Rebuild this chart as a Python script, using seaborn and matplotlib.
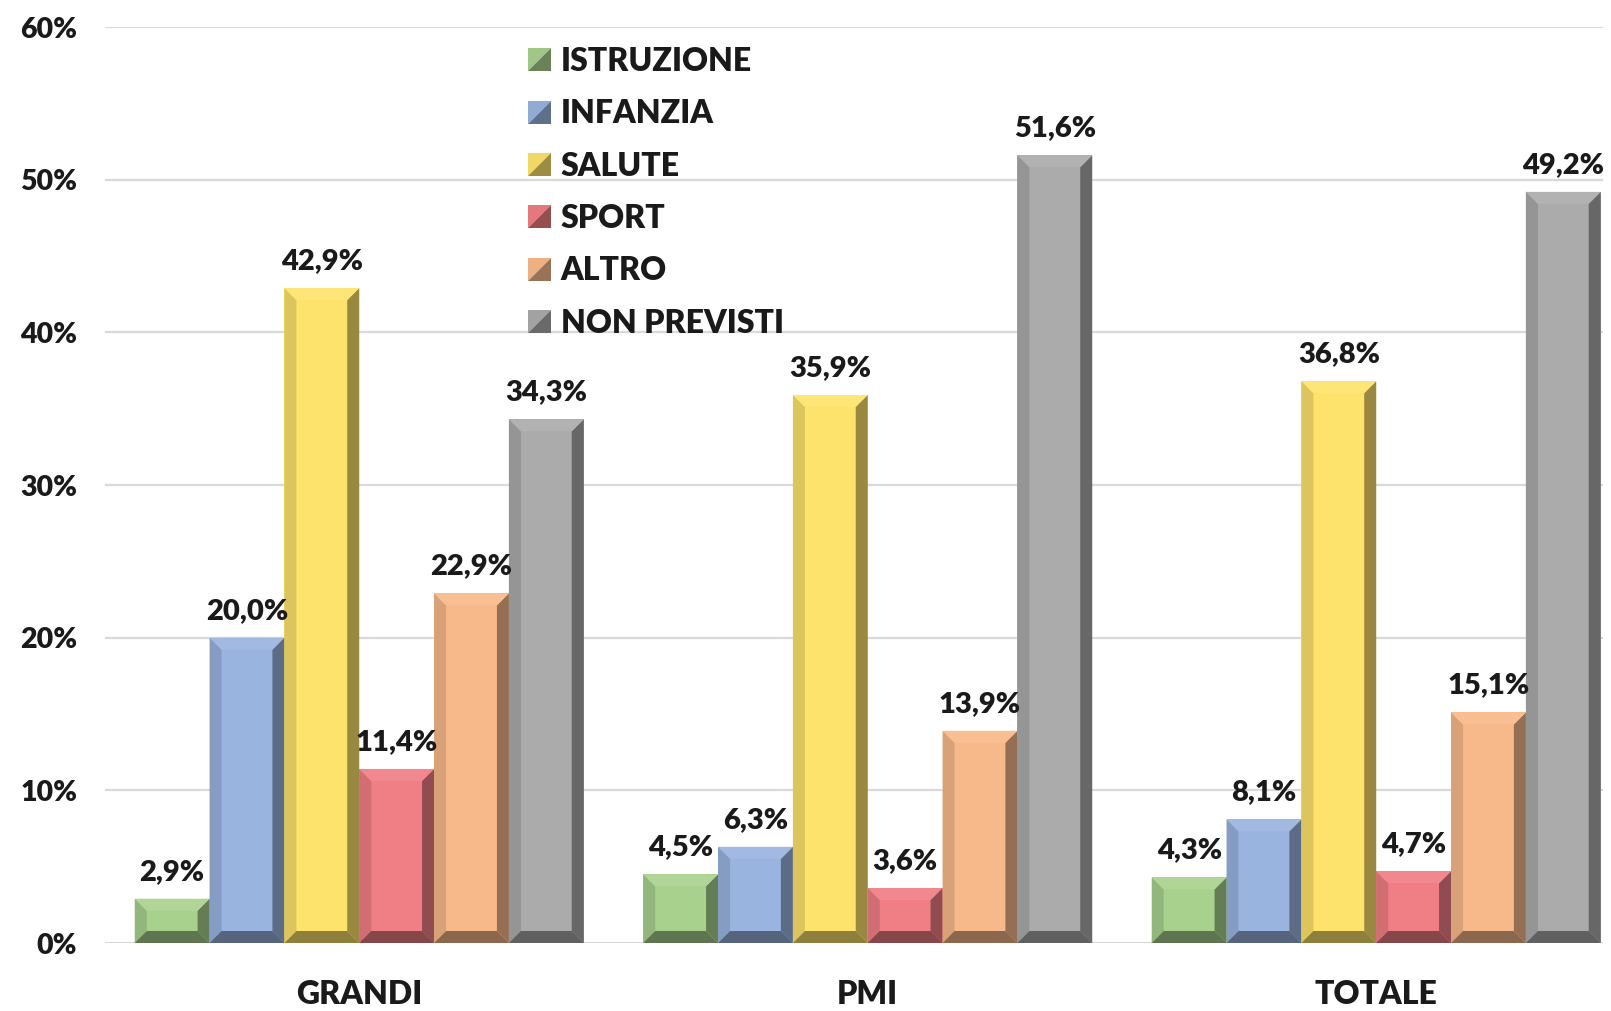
import numpy as np
import pandas as pd
import matplotlib
matplotlib.use("Agg")
import matplotlib.pyplot as plt
import matplotlib.colors as mcolors
from matplotlib.patches import Polygon, Patch
import seaborn as sns

# ---- data ----
groups = ["GRANDI", "PMI", "TOTALE"]
categories = ["ISTRUZIONE", "INFANZIA", "SALUTE", "SPORT", "ALTRO", "NON PREVISTI"]
istruzione = [2.9, 4.5, 4.3]
infanzia = [20.0, 6.3, 8.1]
salute = [42.9, 35.9, 36.8]
sport = [11.4, 3.6, 4.7]
altro = [22.9, 13.9, 15.1]
non_previsti = [34.3, 51.6, 49.2]
y_ticks = [0, 10, 20, 30, 40, 50, 60]
y_ticklabels = ["0%", "10%", "20%", "30%", "40%", "50%", "60%"]

colors = ["#a9d18e", "#9ab4e0", "#fde36b", "#f07e85", "#f8b98a", "#ababab"]

series = [istruzione, infanzia, salute, sport, altro, non_previsti]
df = pd.DataFrame(
    [(g, c, v) for c, vals in zip(categories, series) for g, v in zip(groups, vals)],
    columns=["gruppo", "categoria", "valore"],
)

sns.set_theme(style="white")
plt.rcParams["font.family"] = ["Lato", "DejaVu Sans"]
plt.rcParams["font.weight"] = "bold"
TXT = "#1a1a1a"

fig = plt.figure(figsize=(16.11, 10.11), dpi=100)
W, H = 1611, 1011
ax = fig.add_axes([105 / W, 68 / H, 1498 / W, 916 / H])

sns.barplot(data=df, x="gruppo", y="valore", hue="categoria", order=groups,
            hue_order=categories, palette=colors, width=0.883, gap=0,
            saturation=1, edgecolor="none", linewidth=0, legend=False, ax=ax)

ax.set_xlim(-0.5, 2.446)
ax.set_ylim(0, 60)
ax.set_yticks(y_ticks)
ax.set_yticklabels(y_ticklabels)
ax.set_xlabel("")
ax.set_ylabel("")
for s in ax.spines.values():
    s.set_visible(False)
ax.yaxis.grid(True, color="#d9d9d9", linewidth=1.6)
ax.set_axisbelow(True)
ax.tick_params(axis="y", length=0, pad=20, labelsize=20.5, labelcolor=TXT)
ax.tick_params(axis="x", length=0, pad=27, labelsize=23, labelcolor=TXT)
for lab in ax.get_xticklabels() + ax.get_yticklabels():
    lab.set_fontweight("heavy")


def scale(c, f):
    r, g, b = mcolors.to_rgb(c)
    return (r * f, g * f, b * f)


def mix_white(c, t):
    r, g, b = mcolors.to_rgb(c)
    return (r + (1 - r) * t, g + (1 - g) * t, b + (1 - b) * t)


# bevel sizes: 12 px converted to data units
bev = 12
px_x = 1498 / (2.446 + 0.5)
px_y = 916 / 60
bx, by = bev / px_x, bev / px_y

for cont, col in zip(ax.containers, colors):
    for rect in cont:
        x, y0 = rect.get_x(), rect.get_y()
        w, h = rect.get_width(), rect.get_height()
        y1 = y0 + h
        ld = scale(col, 0.87)
        rd = scale(col, 0.60)
        bd = scale(col, 0.56)
        tl = mix_white(col, 0.08)
        polys = [
            ([(x, y0), (x + bx, y0 + by), (x + bx, y1 - by), (x, y1)], ld),
            ([(x + w, y0), (x + w, y1), (x + w - bx, y1 - by), (x + w - bx, y0 + by)], rd),
            ([(x, y1), (x + w, y1), (x + w - bx, y1 - by), (x + bx, y1 - by)], tl),
            ([(x, y0), (x + w, y0), (x + w - bx, y0 + by), (x + bx, y0 + by)], bd),
        ]
        for pts, fc in polys:
            ax.add_patch(Polygon(pts, closed=True, facecolor=fc, edgecolor="none",
                                 zorder=rect.get_zorder() + 0.1))
    labels = [f"{v:.1f}%".replace(".", ",") for v in cont.datavalues]
    ax.bar_label(cont, labels=labels, padding=10, fontsize=21, fontweight="heavy",
                 color=TXT, zorder=5)


class BevelHandler:
    def legend_artist(self, legend, orig_handle, fontsize, handlebox):
        x0, y0 = -handlebox.xdescent, -handlebox.ydescent
        w, h = handlebox.width, handlebox.height
        c = orig_handle.get_facecolor()
        light = Polygon([(x0, y0), (x0, y0 + h), (x0 + w, y0 + h)], closed=True,
                        facecolor=scale(c, 0.95), edgecolor="none",
                        transform=handlebox.get_transform())
        dark = Polygon([(x0, y0), (x0 + w, y0), (x0 + w, y0 + h)], closed=True,
                       facecolor=scale(c, 0.62), edgecolor="none",
                       transform=handlebox.get_transform())
        handlebox.add_artist(light)
        handlebox.add_artist(dark)
        return light


handles = [Patch(facecolor=c, label=l) for c, l in zip(colors, categories)]
leg = fig.legend(handles=handles, loc="upper left",
                 bbox_to_anchor=(528 / W, 1 - 47 / H), frameon=False,
                 borderaxespad=0, borderpad=0, fontsize=23,
                 handlelength=0.72, handleheight=0.72, handletextpad=0.3,
                 labelspacing=0.73,
                 handler_map={Patch: BevelHandler()})
for t in leg.get_texts():
    t.set_fontweight("heavy")
    t.set_color(TXT)

fig.savefig("out.png", dpi=100)
